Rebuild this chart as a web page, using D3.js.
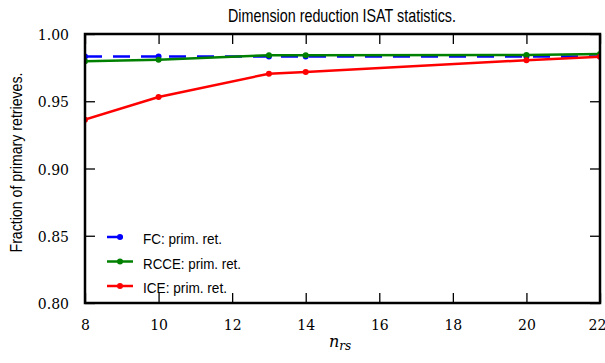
<!DOCTYPE html>
<html lang="en">
<head>
    <meta charset="UTF-8">
    <title>Dimension reduction ISAT statistics</title>
    <script src="https://d3js.org/d3.v7.min.js"></script>
    <style>
        body { margin: 0; background: #fff; }
        .sans { font-family: "Liberation Sans", Arial, sans-serif; }
        .tick-label { font-family: "DejaVu Serif", serif; font-size: 14px; }
    </style>
</head>
<body>
    <div id="chart"></div>
    <script>
        // data
        const nrs = [8, 10, 13, 14, 20, 22];
        const fcPrim = [0.9832, 0.9832, 0.9832, 0.9832, 0.9832, 0.9832];
        const rccePrim = [0.9797, 0.9809, 0.9842, 0.9842, 0.9844, 0.9851];
        const icePrim = [0.9363, 0.9532, 0.9705, 0.9718, 0.9805, 0.9831];
        const xTicks = [8, 10, 12, 14, 16, 18, 20, 22];
        const yTicks = [0.80, 0.85, 0.90, 0.95, 1.00];

        const series = [
            {name: "FC: prim. ret.", values: fcPrim, color: "#0000ff", dash: "17,11"},
            {name: "RCCE: prim. ret.", values: rccePrim, color: "#008000", dash: null},
            {name: "ICE: prim. ret.", values: icePrim, color: "#ff0000", dash: null}
        ];

        const W = 605, H = 363;
        const margin = {top: 34, right: 5, bottom: 60, left: 85},
              width = W - margin.left - margin.right,
              height = H - margin.top - margin.bottom;

        const root = d3.select("#chart").append("svg")
            .attr("width", W)
            .attr("height", H);

        const svg = root.append("g")
            .attr("transform", `translate(${margin.left},${margin.top})`);

        const x = d3.scaleLinear().domain([8, 22]).range([0, width]);
        const y = d3.scaleLinear().domain([0.80, 1.00]).range([height, 0]);

        // clip so lines stop at the frame
        svg.append("clipPath").attr("id", "clip")
            .append("rect").attr("width", width).attr("height", height);

        // inward ticks on all four sides
        const tickLen = 10;
        const bottomAx = svg.append("g")
            .attr("transform", `translate(0,${height})`)
            .call(d3.axisBottom(x).tickValues(xTicks).tickSizeInner(-tickLen).tickSizeOuter(0).tickPadding(17).tickFormat(d3.format("d")));
        const leftAx = svg.append("g")
            .call(d3.axisLeft(y).tickValues(yTicks).tickSizeInner(-tickLen).tickSizeOuter(0).tickPadding(16).tickFormat(d3.format(".2f")));
        const topAx = svg.append("g")
            .call(d3.axisTop(x).tickValues(xTicks).tickSizeInner(-tickLen).tickSizeOuter(0).tickFormat(""));
        const rightAx = svg.append("g")
            .attr("transform", `translate(${width},0)`)
            .call(d3.axisRight(y).tickValues(yTicks).tickSizeInner(-tickLen).tickSizeOuter(0).tickFormat(""));

        [bottomAx, leftAx, topAx, rightAx].forEach(ax => {
            ax.select(".domain").remove();
            ax.selectAll("line").attr("stroke", "#000").attr("stroke-width", 1.3);
            ax.selectAll("text").attr("class", "tick-label").attr("fill", "#000")
                .attr("font-family", null).attr("font-size", null);
        });
        leftAx.selectAll("text").attr("dy", "0.4em");
        // last x label sits on the page edge, keep it inside
        bottomAx.selectAll("text").filter(d => d === 22).attr("dx", -3);

        const line = d3.line()
            .x((d, i) => x(nrs[i]))
            .y(d => y(d));

        const plot = svg.append("g").attr("clip-path", "url(#clip)");

        series.forEach(s => {
            plot.append("path")
                .datum(s.values)
                .attr("fill", "none")
                .attr("stroke", s.color)
                .attr("stroke-width", 2.5)
                .attr("stroke-dasharray", s.dash)
                .attr("d", line);
            plot.selectAll(null)
                .data(s.values)
                .enter().append("circle")
                .attr("cx", (d, i) => x(nrs[i]))
                .attr("cy", d => y(d))
                .attr("r", 3)
                .attr("fill", s.color);
        });

        // frame
        svg.append("rect")
            .attr("width", width)
            .attr("height", height)
            .attr("fill", "none")
            .attr("stroke", "#000")
            .attr("stroke-width", 2.5);

        // legend
        const legendLens = [79, 98, 84];
        const legend = svg.append("g").attr("transform", `translate(${107 - margin.left},${237 - margin.top})`);
        series.forEach((s, i) => {
            const g = legend.append("g").attr("transform", `translate(0,${i * 24.5})`);
            g.append("line")
                .attr("x1", 0).attr("x2", 26)
                .attr("stroke", s.color)
                .attr("stroke-width", 2.5)
                .attr("stroke-dasharray", s.dash ? "16,11" : null);
            g.append("circle").attr("cx", 13).attr("r", 3).attr("fill", s.color);
            g.append("text")
                .attr("class", "sans")
                .attr("x", 36)
                .attr("y", 7)
                .attr("font-size", 15)
                .attr("textLength", legendLens[i])
                .attr("lengthAdjust", "spacingAndGlyphs")
                .text(s.name);
        });

        // title and axis labels
        root.append("text")
            .attr("class", "sans")
            .attr("x", 342)
            .attr("y", 22)
            .attr("text-anchor", "middle")
            .attr("font-size", 19)
            .attr("textLength", 228)
            .attr("lengthAdjust", "spacingAndGlyphs")
            .text("Dimension reduction ISAT statistics.");

        root.append("text")
            .attr("class", "sans")
            .attr("transform", `translate(22,${margin.top + height / 2 - 6}) rotate(-90)`)
            .attr("text-anchor", "middle")
            .attr("font-size", 17)
            .attr("textLength", 180)
            .attr("lengthAdjust", "spacingAndGlyphs")
            .text("Fraction of primary retrieves.");

        const xl = root.append("text")
            .attr("x", 340)
            .attr("y", 347)
            .attr("text-anchor", "middle")
            .attr("font-family", "DejaVu Serif, serif")
            .attr("font-style", "italic");
        xl.append("tspan").attr("font-size", 16).text("n");
        xl.append("tspan").attr("font-size", 12).attr("dy", 3).text("rs");
    </script>
</body>
</html>
